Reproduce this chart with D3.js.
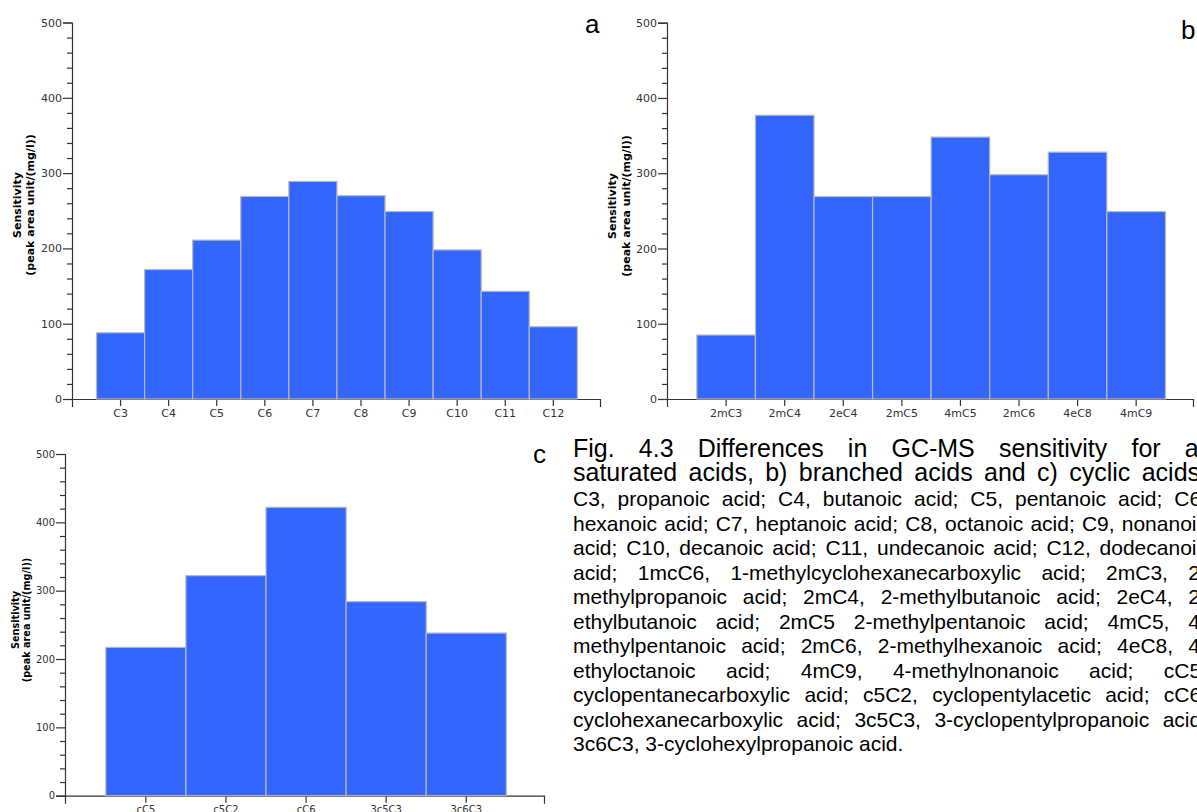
<!DOCTYPE html>
<html>
<head>
<meta charset="utf-8">
<script src="https://cdn.jsdelivr.net/npm/d3@7"></script>
<style>
  html, body { margin: 0; padding: 0; background: #fff; overflow: hidden; }
  #wrap { position: relative; width: 1197px; height: 812px; overflow: hidden; }
  svg { position: absolute; left: 0; top: 0; }
  #caption { position: absolute; left: 573px; top: 436px; width: 634px;
             font-family: "Liberation Sans", Arial, sans-serif; color: #000; }
  #caption div { white-space: nowrap; text-align: justify; text-align-last: justify; }
  #caption .big { font-size: 25px; line-height: 24px; height: 24px; }
  #caption .small { font-size: 21px; line-height: 24.5px; height: 24.5px; }
  #caption .last { text-align-last: left; }
</style>
</head>
<body>
<div id="wrap"></div>
<script>
// Sensitivity values (peak area unit per mg/l) for each acid group
const saturatedAcids = ["C3", "C4", "C5", "C6", "C7", "C8", "C9", "C10", "C11", "C12"];
const saturatedSensitivity = [88, 172, 211, 269, 289, 270, 249, 198, 143, 96];

const branchedAcids = ["2mC3", "2mC4", "2eC4", "2mC5", "4mC5", "2mC6", "4eC8", "4mC9"];
const branchedSensitivity = [85, 377, 269, 269, 348, 298, 328, 249];

const cyclicAcids = ["cC5", "c5C2", "cC6", "3c5C3", "3c6C3"];
const cyclicSensitivity = [217, 322, 422, 284, 238];

const yTickValues = [0, 100, 200, 300, 400, 500];
const yMinorStep = 20;
const yMax = 500;

const yTitleLines = ["Sensitivity", "(peak area unit/(mg/l))"];

const captionTitle = [
  "Fig. 4.3 Differences in GC-MS sensitivity for a)",
  "saturated acids, b) branched acids and c) cyclic acids."
];
const captionNotes = [
  "C3, propanoic acid; C4, butanoic acid; C5, pentanoic acid; C6,",
  "hexanoic acid; C7, heptanoic acid; C8, octanoic acid; C9, nonanoic",
  "acid; C10, decanoic acid; C11, undecanoic acid; C12, dodecanoic",
  "acid; 1mcC6, 1-methylcyclohexanecarboxylic acid; 2mC3, 2-",
  "methylpropanoic acid; 2mC4, 2-methylbutanoic acid; 2eC4, 2-",
  "ethylbutanoic acid; 2mC5 2-methylpentanoic acid; 4mC5, 4-",
  "methylpentanoic acid; 2mC6, 2-methylhexanoic acid; 4eC8, 4-",
  "ethyloctanoic acid; 4mC9, 4-methylnonanoic acid; cC5,",
  "cyclopentanecarboxylic acid; c5C2, cyclopentylacetic acid; cC6,",
  "cyclohexanecarboxylic acid; 3c5C3, 3-cyclopentylpropanoic acid;",
  "3c6C3, 3-cyclohexylpropanoic acid."
];

const W = 1197, H = 812;
const wrap = d3.select("#wrap");
const svg = wrap.append("svg").attr("width", W).attr("height", H);

const BAR_FILL = "#3366ff";
const BAR_STROKE = "#b8b8b8";
const AXIS_COLOR = "#333";

// Frame of each panel: axis corner, right end of x axis, top of y axis
const panels = [
  { label: "a", cats: saturatedAcids, vals: saturatedSensitivity,
    left: 72, right: 600, top: 22.5, bottom: 399,
    tickFont: 11, titleFont: 11, titleX: [-51, -38], titleCy: 205,
    labelX: 585, labelY: 33 },
  { label: "b", cats: branchedAcids, vals: branchedSensitivity,
    left: 667, right: 1193, top: 22.7, bottom: 399,
    tickFont: 11, titleFont: 11, titleX: [-51, -37], titleCy: 206,
    labelX: 1181, labelY: 39 },
  { label: "c", cats: cyclicAcids, vals: cyclicSensitivity,
    left: 65, right: 544, top: 454, bottom: 795.7,
    tickFont: 10, titleFont: 9.7, titleX: [-46, -35], titleCy: 620,
    labelX: 533, labelY: 463 }
];

function drawPanel(p) {
  const g = svg.append("g").attr("class", "panel-" + p.label);

  const y = d3.scaleLinear().domain([0, yMax]).range([p.bottom, p.top]);
  const x = d3.scaleBand().domain(p.cats).range([p.left, p.right])
    .paddingInner(0).paddingOuter(0.49).align(0.52);

  // minor y ticks
  const minor = d3.range(0, yMax + 1, yMinorStep).filter(v => v % 100 !== 0);
  const gMinor = g.append("g").attr("transform", `translate(${p.left},0)`)
    .call(d3.axisLeft(y).tickValues(minor).tickSize(5).tickFormat(""));
  gMinor.select(".domain").remove();

  // major y axis
  const gy = g.append("g").attr("transform", `translate(${p.left},0)`)
    .call(d3.axisLeft(y).tickValues(yTickValues).tickSize(9).tickSizeOuter(9).tickPadding(1));

  // x axis
  const gx = g.append("g").attr("transform", `translate(0,${p.bottom})`)
    .call(d3.axisBottom(x).tickSize(7).tickSizeOuter(8).tickPadding(3));

  [gMinor, gy, gx].forEach(a => {
    a.selectAll("path, line").attr("stroke", AXIS_COLOR).attr("stroke-width", 1.2);
    a.selectAll("text").attr("fill", "#333")
      .style("font-family", "'DejaVu Sans', sans-serif")
      .style("font-size", p.tickFont + "px");
  });

  // bars
  g.append("g").selectAll("rect")
    .data(p.cats.map((c, i) => ({ c, v: p.vals[i] })))
    .join("rect")
    .attr("x", d => x(d.c))
    .attr("y", d => y(d.v))
    .attr("width", x.bandwidth())
    .attr("height", d => y(0) - y(d.v))
    .attr("fill", BAR_FILL)
    .attr("stroke", BAR_STROKE)
    .attr("stroke-width", 1.2);

  // y axis title (two lines, rotated)
  const t = g.append("text")
    .attr("transform", "rotate(-90)")
    .attr("text-anchor", "middle")
    .style("font-family", "'DejaVu Sans', sans-serif")
    .style("font-weight", "bold")
    .style("font-size", p.titleFont + "px")
    .attr("fill", "#000");
  yTitleLines.forEach((line, i) => {
    t.append("tspan")
      .attr("x", -p.titleCy)
      .attr("y", p.left + p.titleX[i])
      .text(line);
  });

  // panel letter
  svg.append("text")
    .attr("x", p.labelX).attr("y", p.labelY)
    .style("font-family", "'Liberation Sans', Arial, sans-serif")
    .style("font-size", "26px")
    .attr("fill", "#000")
    .text(p.label);
}

panels.forEach(drawPanel);

// caption block, justified line by line
const cap = wrap.append("div").attr("id", "caption");
cap.selectAll("div.big").data(captionTitle).join("div")
  .attr("class", "big").text(d => d);
const notes = cap.append("div").style("margin-top", "3px").style("text-align-last", "auto");
notes.selectAll("div").data(captionNotes).join("div")
  .attr("class", (d, i) => i === captionNotes.length - 1 ? "small last" : "small")
  .text(d => d);
</script>
</body>
</html>
